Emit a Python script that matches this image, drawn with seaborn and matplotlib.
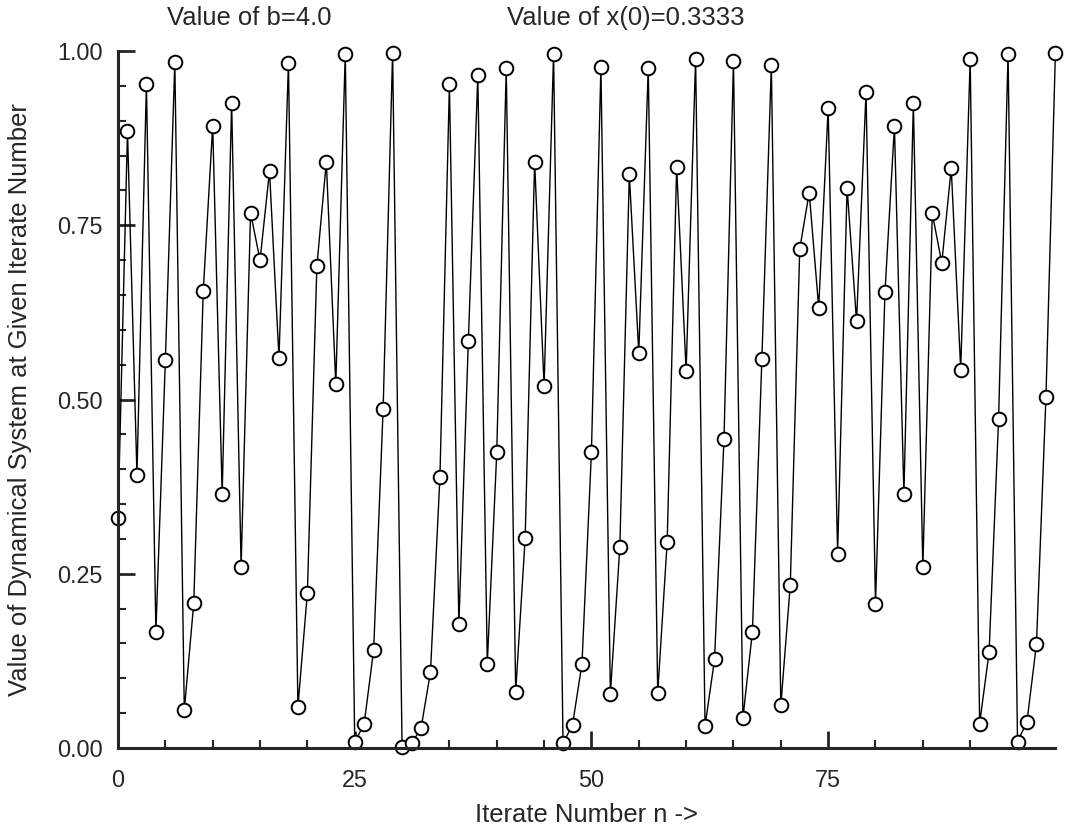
import matplotlib
matplotlib.use("Agg")
import matplotlib.pyplot as plt
from matplotlib import font_manager
from matplotlib.ticker import MultipleLocator, FormatStrFormatter
import numpy as np
import pandas as pd
import seaborn as sns

# values
b_value = "4.0"
x_start = "0.3333"
iterate_n = list(range(100))
x_values = [
    0.330, 0.885, 0.392, 0.953, 0.167, 0.556, 0.984, 0.054, 0.208, 0.655,
    0.893, 0.365, 0.926, 0.260, 0.768, 0.700, 0.828, 0.559, 0.983, 0.059,
    0.223, 0.691, 0.841, 0.522, 0.996, 0.008, 0.035, 0.141, 0.487, 0.997,
    0.002, 0.007, 0.028, 0.109, 0.389, 0.952, 0.178, 0.584, 0.965, 0.121,
    0.424, 0.975, 0.081, 0.301, 0.841, 0.519, 0.996, 0.007, 0.033, 0.121,
    0.425, 0.977, 0.078, 0.289, 0.823, 0.567, 0.976, 0.079, 0.296, 0.833,
    0.541, 0.989, 0.032, 0.127, 0.444, 0.985, 0.043, 0.167, 0.558, 0.980,
    0.061, 0.234, 0.716, 0.797, 0.632, 0.918, 0.279, 0.804, 0.612, 0.941,
    0.207, 0.654, 0.892, 0.364, 0.925, 0.259, 0.767, 0.696, 0.832, 0.543,
    0.988, 0.035, 0.138, 0.472, 0.996, 0.009, 0.038, 0.149, 0.503, 0.997,
]

df = pd.DataFrame({"n": iterate_n, "x": x_values})

sns.set_style("ticks")

# old Mac plot used a condensed Helvetica, use a narrow face if one is there
installed = {f.name for f in font_manager.fontManager.ttflist}
narrow = [n for n in ["Liberation Sans Narrow", "Arial Narrow", "Nimbus Sans Narrow"]
          if n in installed]
if narrow:
    plt.rcParams['font.family'] = [narrow[0], 'DejaVu Sans']
    scale = 1.0
else:
    plt.rcParams['font.family'] = ['Liberation Sans', 'DejaVu Sans']
    scale = 0.84

fig = plt.figure(figsize=(10.68, 8.34), dpi=100)
ax = fig.add_axes([0.1105, 0.1031, 0.8777, 0.8357])

sns.lineplot(data=df, x="n", y="x", ax=ax, color="black", linewidth=1.0,
             marker="o", markersize=9.8, markerfacecolor="white",
             markeredgecolor="black", markeredgewidth=1.4, clip_on=False)

ax.set_xlim(0, 99)
ax.set_ylim(0, 1)
ax.xaxis.set_major_locator(MultipleLocator(25))
ax.xaxis.set_minor_locator(MultipleLocator(5))
ax.yaxis.set_major_locator(MultipleLocator(0.25))
ax.yaxis.set_minor_locator(MultipleLocator(0.05))
ax.yaxis.set_major_formatter(FormatStrFormatter("%.2f"))

sns.despine(ax=ax)
for side in ["left", "bottom"]:
    ax.spines[side].set_linewidth(2.2)
ax.tick_params(which="major", direction="in", length=12, width=2,
               labelsize=20 * scale, pad=11)
ax.tick_params(axis="x", which="major", pad=15)
ax.tick_params(which="minor", direction="in", length=6, width=1.5)

ax.set_xlabel("Iterate Number n ->", fontsize=22 * scale, labelpad=8)
ax.set_ylabel("Value of Dynamical System at Given Iterate Number", fontsize=22 * scale)
ax.yaxis.set_label_coords(-0.092, 0.5)

fig.text(0.156, 0.978, "Value of b=" + b_value, fontsize=22 * scale, va="center")
fig.text(0.475, 0.978, "Value of x(0)=" + x_start, fontsize=22 * scale, va="center")

fig.savefig("out.png", dpi=100, facecolor="white")
